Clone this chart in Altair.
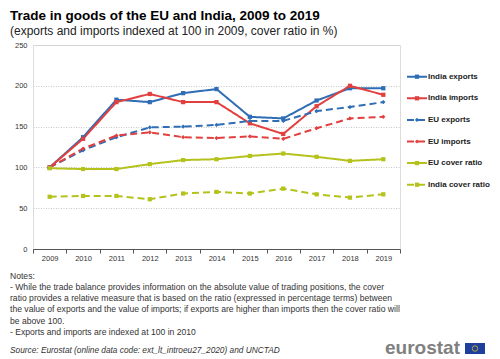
import altair as alt
import pandas as pd

years = [str(y) for y in range(2009, 2020)]
series_names = ["India exports", "India imports", "EU exports", "EU imports",
                "EU cover ratio", "India cover ratio"]
india_exports = [100, 137, 183, 180, 191, 196, 162, 160, 182, 197, 197]
india_imports = [100, 135, 180, 190, 180, 180, 154, 141, 175, 200, 189]
eu_exports = [100, 121, 137, 149, 150, 152, 157, 157, 169, 174, 180]
eu_imports = [100, 123, 139, 143, 137, 136, 138, 135, 148, 160, 162]
eu_cover = [99, 98, 98, 104, 109, 110, 114, 117, 113, 108, 110]
india_cover = [64, 65, 65, 61, 68, 70, 68, 74, 67, 63, 67]

colors = ["#2F6DB5", "#E1403F", "#2F6DB5", "#E1403F", "#B5C21C", "#B5C21C"]
dashes = [[1, 0], [1, 0], [7, 4], [7, 4], [1, 0], [7, 4]]
shapes = ["square", "square", "diamond", "diamond", "square", "square"]

title_text = "Trade in goods of the EU and India, 2009 to 2019"
subtitle_text = "(exports and imports indexed at 100 in 2009, cover ratio in %)"
note_lines = [
    "Notes:",
    "- While the trade balance provides information on the absolute value of trading positions, the cover",
    "ratio provides a relative measure that is based on the ratio (expressed in percentage terms) between",
    "the value of exports and the value of imports; if exports are higher than imports then the cover ratio will",
    "be above 100.",
    " - Exports and imports are indexed at 100 in 2010",
]
source_text = "Source: Eurostat (online data code: ext_lt_introeu27_2020) and UNCTAD"

values = [india_exports, india_imports, eu_exports, eu_imports, eu_cover, india_cover]
rows = []
for name, vals in zip(series_names, values):
    for yr, v in zip(years, vals):
        rows.append({"year": yr, "series": name, "value": v})
df = pd.DataFrame(rows)

FONT = "Liberation Sans"

color_enc = alt.Color("series:N", scale=alt.Scale(domain=series_names, range=colors), legend=None)
dash_enc = alt.StrokeDash("series:N", scale=alt.Scale(domain=series_names, range=dashes), legend=None)
shape_enc = alt.Shape("series:N", scale=alt.Scale(domain=series_names, range=shapes), legend=None)

x_enc = alt.X("year:O", bandPosition=0.5,
              scale=alt.Scale(type="band", paddingInner=0, paddingOuter=0),
              axis=alt.Axis(title=None, labelAngle=0, tickBand="extent", domainColor="#555",
                            tickColor="#555", tickSize=4, labelFontSize=7.5, labelColor="#333",
                            labelPadding=1, grid=False, labelFont=FONT))
y_enc = alt.Y("value:Q", scale=alt.Scale(domain=[0, 250], nice=False),
              axis=alt.Axis(title=None, values=[0, 50, 100, 150, 200, 250], domain=False,
                            ticks=False, labelPadding=6, labelFontSize=7.5, labelColor="#333",
                            gridColor="#c8c8c8", gridDash=[1, 1.5], labelFont=FONT))

base = alt.Chart(df)
lines = base.mark_line(strokeWidth=2).encode(x=x_enc, y=y_enc, color=color_enc,
                                              strokeDash=dash_enc, detail="series:N")
points = base.mark_point(filled=True, size=18, opacity=1).encode(
    x=x_enc, y="value:Q", color=color_enc, shape=shape_enc)
main = alt.layer(lines, points)

leg_df = pd.DataFrame({"series": series_names})
leg_y = alt.Y("series:N", sort=series_names, axis=None,
              scale=alt.Scale(type="point", domain=series_names, range=[31.7, 139.7], padding=0))
leg_base = alt.Chart(leg_df)
leg_rule = leg_base.mark_rule(strokeWidth=2).encode(
    x=alt.value(374), x2=alt.value(394), y=leg_y, color=color_enc, strokeDash=dash_enc)
leg_pt = leg_base.mark_point(filled=True, size=18, opacity=1).encode(
    x=alt.value(384), y=leg_y, color=color_enc, shape=shape_enc)
leg_txt = leg_base.mark_text(align="left", baseline="middle", fontSize=8, fontWeight="bold",
                             color="#222", font=FONT).encode(
    x=alt.value(395), y=leg_y, text="series:N")
legend = alt.layer(leg_rule, leg_pt, leg_txt)

notes = alt.Chart(pd.DataFrame({"t": ["\n".join(note_lines)]})).mark_text(
    align="left", baseline="top", fontSize=8.6, lineHeight=11.3, lineBreak="\n",
    color="#333", font=FONT).encode(x=alt.value(-23), y=alt.value(226.5), text="t:N")
source = alt.Chart(pd.DataFrame({"t": [source_text]})).mark_text(
    align="left", baseline="middle", fontSize=8.3, fontStyle="italic", color="#333",
    font=FONT).encode(x=alt.value(-23), y=alt.value(306), text="t:N")
logo_txt = alt.Chart(pd.DataFrame({"t": ["eurostat"]})).mark_text(
    align="left", baseline="middle", fontSize=19, fontWeight="bold", color="#808080",
    font=FONT).encode(x=alt.value(352), y=alt.value(303), text="t:N")
flag = alt.Chart(pd.DataFrame({"t": ["flag"]})).mark_rect(color="#1F3F9F").encode(
    x=alt.value(432), x2=alt.value(452), y=alt.value(298), y2=alt.value(309))
stars = alt.Chart(pd.DataFrame({"t": ["stars"]})).mark_point(
    color="#F5D50A", size=30, strokeWidth=1, filled=False).encode(
    x=alt.value(442), y=alt.value(303.5))

chart = alt.layer(main, legend, notes, source, logo_txt, flag, stars).resolve_scale(
    y="independent"
).properties(
    width=367, height=204,
    padding={"left": 25, "top": 37, "right": 92, "bottom": 108},
    autosize=alt.AutoSizeParams(type="none"),
    title=alt.TitleParams(text=title_text, subtitle=subtitle_text, anchor="start", frame="group",
                          dx=-23, fontSize=13.5, font=FONT, fontWeight="bold", color="#000",
                          subtitleFontSize=12, subtitleFont=FONT, subtitleColor="#222",
                          subtitlePadding=4, offset=4),
).configure_view(stroke=None).configure(background="white")

chart.save("out.html", embed_options={"renderer": "svg", "actions": False})
